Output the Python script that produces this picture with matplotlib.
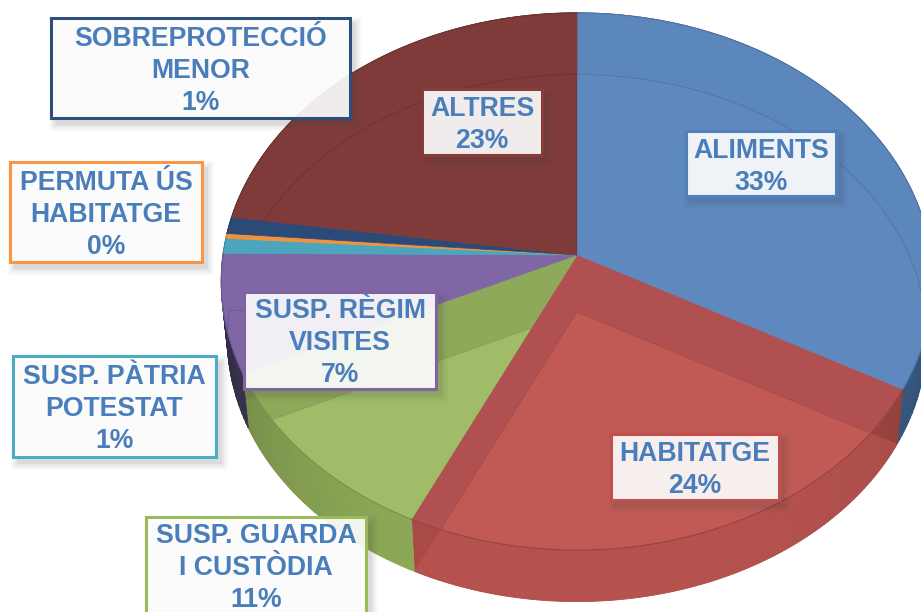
import numpy as np
import matplotlib
matplotlib.use("Agg")
import matplotlib.pyplot as plt
from matplotlib.patches import Polygon, Rectangle
from matplotlib.colors import to_rgb

# slices, clockwise from 12 o'clock
names = ["ALIMENTS", "HABITATGE", "SUSP. GUARDA\nI CUSTÒDIA", "SUSP. RÈGIM\nVISITES",
         "SUSP. PÀTRIA\nPOTESTAT", "PERMUTA ÚS\nHABITATGE", "SOBREPROTECCIÓ\nMENOR", "ALTRES"]
values = [33.0, 24.0, 11.0, 7.1, 0.9, 0.3, 1.0, 22.7]

top_colors = ["#5C87BD", "#B05050", "#8FA95B", "#7F66A5", "#4AA5BD", "#F0913F", "#2B4A78", "#7F3B3A"]
floor_colors = ["#5E88BE", "#C15A55", "#A0BC68", "#8166A6", "#4AA5BD", "#F0913F", "#2B4A78", "#7F3B3A"]
wall_colors = ["#3F6595", "#AC4B47", "#8FAB58", "#3F3A5A", "#3A6F80", "#B06A30", "#22395C", "#5A2A2A"]
wall_glow = [0, 0.5, 0, 0, 0, 0, 0, 0]
edge_colors = ["#4F81BD", "#C0504D", "#9BBB59", "#8064A2", "#4BACC6", "#F79646", "#2C4F7C", "#8B3A3A"]

# label boxes: left, top, right, bottom in pixels
boxes = [(686, 131, 836, 196), (611, 434, 779, 500), (146, 517, 366, 613), (244, 292, 436, 389),
         (13, 356, 216, 457), (10, 162, 202, 262), (51, 18, 350, 118), (422, 89, 542, 155)]

CX = 577
TOP_Y, BOT_Y = 255, 312
TOP_A, BOT_A = 266, 261
TOP_B, BOT_B = 354, 348
K = 0.0987


def project(theta, r, apex_y, a, b):
    # theta clockwise from the top, small perspective towards the viewer
    u = r * np.sin(theta)
    v = r * np.cos(theta)
    d = 1 + K * v
    return CX + b * u / d, apex_y - a * v / d


def rim(t0, t1, apex_y, a, b, n=80):
    th = np.linspace(t0, t1, n)
    return np.column_stack(project(th, 1.0, apex_y, a, b))


def wedge(t0, t1, apex_y, a, b):
    return np.vstack([[CX, apex_y], rim(t0, t1, apex_y, a, b)])


fig = plt.figure(figsize=(9.21, 6.12), dpi=100)
ax = fig.add_axes([0, 0, 1, 1])
ax.set_xlim(0, 921)
ax.set_ylim(612, 0)
ax.axis("off")

edges = np.cumsum([0] + values) / 100 * 2 * np.pi

# outer walls, darker towards the sides
for i in range(len(values)):
    n = max(int((edges[i + 1] - edges[i]) * 60), 2)
    th = np.linspace(edges[i], edges[i + 1], n + 1)
    base = np.array(to_rgb(wall_colors[i]))
    for j in range(n):
        p = rim(th[j], th[j + 1], TOP_Y, TOP_A, TOP_B, 3)
        q = rim(th[j], th[j + 1], BOT_Y, BOT_A, BOT_B, 3)
        shade = 1.0 - 0.22 * abs(np.sin((th[j] + th[j + 1]) / 2)) ** 3
        c = tuple(base * shade)
        ax.add_patch(Polygon(np.vstack([p, q[::-1]]), fc=c, ec=c, lw=0.6, zorder=1))
    if wall_glow[i] > 0:
        ax.add_patch(Polygon(wedge(edges[i], edges[i + 1], BOT_Y, BOT_A, BOT_B), fc=floor_colors[i], ec="none",
                             alpha=wall_glow[i], zorder=1.5))

# top face and the floor seen through it
for i in range(len(values)):
    top = Polygon(wedge(edges[i], edges[i + 1], TOP_Y, TOP_A, TOP_B), fc=top_colors[i], ec=top_colors[i],
                  lw=0.5, zorder=2)
    ax.add_patch(top)
    floor = Polygon(wedge(edges[i], edges[i + 1], BOT_Y, BOT_A, BOT_B), fc=floor_colors[i],
                    ec=tuple(np.array(to_rgb(floor_colors[i])) * 0.85), lw=0.6, zorder=3)
    ax.add_patch(floor)
    floor.set_clip_path(top)
    arc = rim(edges[i], edges[i + 1], TOP_Y, TOP_A, TOP_B)
    ax.plot(arc[:, 0], arc[:, 1], color=tuple(np.array(to_rgb(top_colors[i])) * 0.85), lw=0.8, zorder=4)

# label boxes with a soft shadow
for i, (name, val) in enumerate(zip(names, values)):
    x0, y0, x1, y1 = boxes[i]
    for grow, alpha in [(7, 0.03), (5, 0.04), (3, 0.05), (1, 0.07)]:
        ax.add_patch(Rectangle((x0 + 5 - grow, y0 + 6 - grow), x1 - x0 + 2 * grow, y1 - y0 + 2 * grow,
                               fc="#404040", ec="none", alpha=alpha, zorder=5))
    ax.add_patch(Rectangle((x0, y0), x1 - x0, y1 - y0, fc=(1, 1, 1, 0.91), ec=edge_colors[i], lw=2.2, zorder=6))
    ax.text((x0 + x1) / 2, (y0 + y1) / 2 + 3, f"{name}\n{val:.0f}%", ha="center", va="center", ma="center",
            family="Liberation Sans", weight="bold", fontsize=19.2, color="#4A7EBB", linespacing=1.3, zorder=7)

fig.savefig("out.png", dpi=100)
